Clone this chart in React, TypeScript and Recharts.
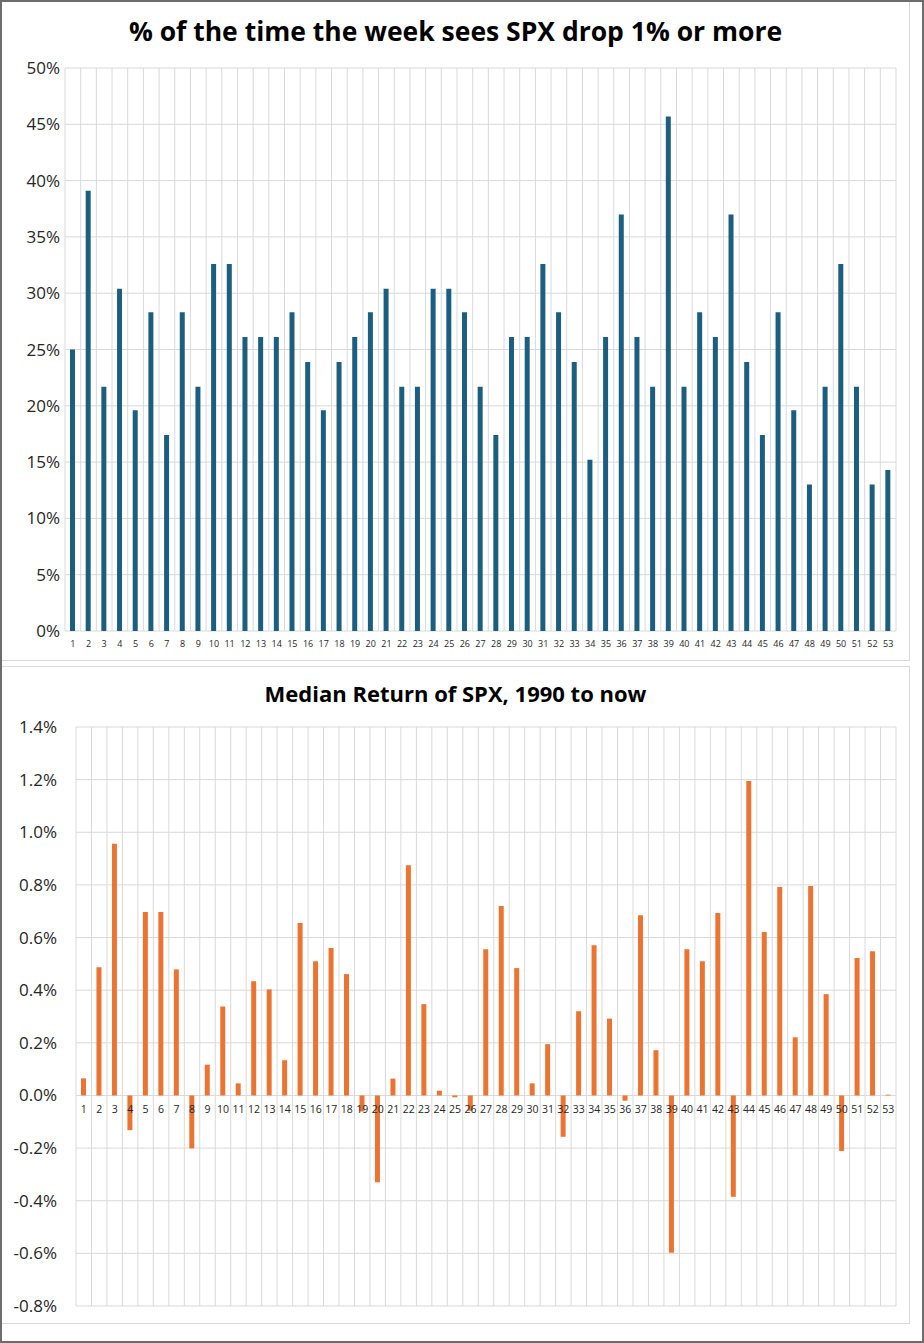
import React from 'react';
import { BarChart, Bar, XAxis, YAxis, CartesianGrid } from 'recharts';

// week numbers 1..53
const WEEKS = [
  '1', '2', '3', '4', '5', '6', '7', '8', '9', '10',
  '11', '12', '13', '14', '15', '16', '17', '18', '19', '20',
  '21', '22', '23', '24', '25', '26', '27', '28', '29', '30',
  '31', '32', '33', '34', '35', '36', '37', '38', '39', '40',
  '41', '42', '43', '44', '45', '46', '47', '48', '49', '50',
  '51', '52', '53',
];

// % of years the week saw SPX drop 1% or more
const DROP_PCT = [
  25.0, 39.1, 21.7, 30.4, 19.6, 28.3, 17.4, 28.3, 21.7, 32.6,
  32.6, 26.1, 26.1, 26.1, 28.3, 23.9, 19.6, 23.9, 26.1, 28.3,
  30.4, 21.7, 21.7, 30.4, 30.4, 28.3, 21.7, 17.4, 26.1, 26.1,
  32.6, 28.3, 23.9, 15.2, 26.1, 37.0, 26.1, 21.7, 45.7, 21.7,
  28.3, 26.1, 37.0, 23.9, 17.4, 28.3, 19.6, 13.0, 21.7, 32.6,
  21.7, 13.0, 14.3,
];

// median weekly return of SPX, in %
const MEDIAN_RET = [
  0.065, 0.487, 0.956, -0.132, 0.697, 0.697, 0.479, -0.201, 0.117, 0.338,
  0.046, 0.434, 0.403, 0.134, 0.655, 0.51, 0.56, 0.461, -0.061, -0.33,
  0.064, 0.875, 0.347, 0.018, -0.007, -0.058, 0.556, 0.72, 0.484, 0.046,
  0.195, -0.157, 0.32, 0.571, 0.292, -0.02, 0.685, 0.172, -0.598, 0.556,
  0.51, 0.693, -0.385, 1.195, 0.621, 0.792, 0.221, 0.796, 0.385, -0.211,
  0.522, 0.548, 0.003,
];

const DROP_TICKS = [0, 5, 10, 15, 20, 25, 30, 35, 40, 45, 50];
const RET_TICKS = [-0.8, -0.6, -0.4, -0.2, 0, 0.2, 0.4, 0.6, 0.8, 1.0, 1.2, 1.4];

const dropData = WEEKS.map((week, i) => ({ week, value: DROP_PCT[i] }));
const retData = WEEKS.map((week, i) => ({ week, value: MEDIAN_RET[i] }));

const FONT = '"Open Sans", "Noto Sans", sans-serif';
const GRID = '#d9d9d9';
const TEXT = '#262626';

const CHART_W = 904;
const TOP_H = 657;
const BOT_H = 655;

const BOT_MARGIN = { top: 59, right: 10, left: 0, bottom: 0 };
const BOT_XAXIS_H = 17;
const BOT_PLOT_H = BOT_H - BOT_MARGIN.top - BOT_MARGIN.bottom - BOT_XAXIS_H;
const RET_MIN = -0.8;
const RET_MAX = 1.4;
// where 0.0% sits, so week labels can hug the zero line like Excel does
const ZERO_Y = BOT_MARGIN.top + BOT_PLOT_H * (RET_MAX / (RET_MAX - RET_MIN));

// gridlines between categories instead of through their centres
const boundaryLines = ({ offset }: any) => {
  const out: number[] = [];
  const step = offset.width / WEEKS.length;
  for (let i = 0; i <= WEEKS.length; i++) out.push(offset.left + i * step);
  return out;
};

const RetTick = (props: any) => {
  const { x, payload } = props;
  return (
    <text
      x={x}
      y={ZERO_Y + 14}
      textAnchor="middle"
      dominantBaseline="central"
      fontSize={10.5}
      fontFamily={FONT}
      fill={TEXT}
    >
      {payload.value}
    </text>
  );
};

const panelStyle: React.CSSProperties = {
  position: 'absolute',
  left: 0,
  width: 908,
  border: `1px solid ${GRID}`,
  borderLeft: 'none',
  boxSizing: 'border-box',
  background: '#fff',
};

export default function App() {
  return (
    <div
      style={{
        position: 'absolute',
        left: 0,
        top: 0,
        width: 924,
        height: 1343,
        background: '#fff',
        fontFamily: FONT,
        boxSizing: 'border-box',
        border: '2px solid #6d6d6d',
        overflow: 'hidden',
      }}
    >
      {/* Top panel: drop frequency */}
      <div style={{ ...panelStyle, top: -2, height: 661 }}>
        <div
          style={{
            position: 'absolute',
            left: 0,
            top: 12,
            width: '100%',
            textAlign: 'center',
            fontSize: 26.5,
            fontWeight: 700,
            color: '#000',
            lineHeight: '36px',
          }}
        >
          % of the time the week sees SPX drop 1% or more
        </div>
        <div style={{ position: 'absolute', left: 0, top: 0 }}>
          <BarChart
            width={CHART_W}
            height={TOP_H}
            data={dropData}
            margin={{ top: 67, right: 10, left: 0, bottom: 7 }}
            barSize={5}
          >
            <CartesianGrid
              stroke={GRID}
              strokeWidth={1}
              verticalCoordinatesGenerator={boundaryLines}
            />
            <XAxis
              dataKey="week"
              interval={0}
              axisLine={false}
              tickLine={false}
              tickSize={0}
              tickMargin={10}
              height={20}
              tick={{ fontSize: 9, fill: TEXT, fontFamily: FONT }}
            />
            <YAxis
              domain={[0, 50]}
              ticks={DROP_TICKS}
              interval={0}
              width={63}
              axisLine={false}
              tickLine={false}
              tickSize={0}
              tickMargin={5}
              tickFormatter={(v: number) => `${v}%`}
              tick={{ fontSize: 17, fill: TEXT, fontFamily: FONT }}
            />
            <Bar dataKey="value" fill="#1b5e80" isAnimationActive={false} />
          </BarChart>
        </div>
      </div>

      {/* Bottom panel: median return */}
      <div style={{ ...panelStyle, top: 664, height: 658 }}>
        <div
          style={{
            position: 'absolute',
            left: 0,
            top: 10,
            width: '100%',
            textAlign: 'center',
            fontSize: 22,
            fontWeight: 700,
            color: '#000',
            lineHeight: '32px',
          }}
        >
          Median Return of SPX, 1990 to now
        </div>
        <div style={{ position: 'absolute', left: 0, top: 1 }}>
          <BarChart
            width={CHART_W}
            height={BOT_H}
            data={retData}
            margin={BOT_MARGIN}
            barSize={5}
          >
            <CartesianGrid
              stroke={GRID}
              strokeWidth={1}
              verticalCoordinatesGenerator={boundaryLines}
            />
            <YAxis
              domain={[RET_MIN, RET_MAX]}
              ticks={RET_TICKS}
              interval={0}
              width={74}
              axisLine={false}
              tickLine={false}
              tickSize={0}
              tickMargin={19}
              tickFormatter={(v: number) => `${v.toFixed(1)}%`}
              tick={{ fontSize: 17, fill: TEXT, fontFamily: FONT }}
            />
            <Bar dataKey="value" fill="#ec7433" isAnimationActive={false} />
            <XAxis
              dataKey="week"
              interval={0}
              axisLine={false}
              tickLine={false}
              tickSize={0}
              height={BOT_XAXIS_H}
              tick={<RetTick />}
            />
          </BarChart>
        </div>
      </div>
    </div>
  );
}
